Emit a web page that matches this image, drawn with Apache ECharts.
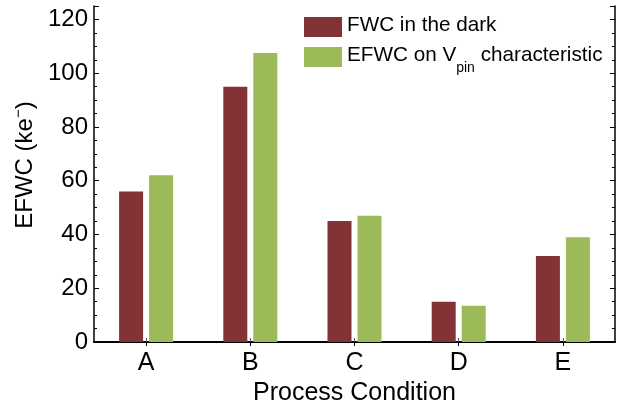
<!DOCTYPE html>
<html>
<head>
<meta charset="utf-8">
<script src="https://cdn.jsdelivr.net/npm/echarts@6/dist/echarts.min.js"></script>
<style>
  html, body { margin: 0; padding: 0; background: #fff; }
  #chart { width: 631px; height: 403px; }
</style>
</head>
<body>
<div id="chart"></div>
<script>
    // values
    var categories = ['A', 'B', 'C', 'D', 'E']
    var fwcDark = [56, 95, 45, 15, 32]
    var efwcVpin = [62, 107.5, 47, 13.5, 39]
    var seriesNames = ['FWC in the dark', 'EFWC on Vpin characteristic']
    var yTicks = [0, 20, 40, 60, 80, 100, 120]

    var font = "'Liberation Sans', Arial, Helvetica, sans-serif"

    function valueAxis(side) {
        return {
            type: 'value',
            position: side,
            min: 0,
            max: 125,
            interval: 20,
            axisLine: { show: true, lineStyle: { color: '#000', width: 1.5 } },
            axisTick: { show: true, inside: true, length: 5, lineStyle: { color: '#000', width: 1 } },
            minorTick: { show: true, splitNumber: 4, length: 3, lineStyle: { color: '#000', width: 1 } },
            splitLine: { show: false },
            axisLabel: {
                show: side === 'left',
                showMaxLabel: false,
                margin: 6,
                fontSize: 24,
                color: '#000',
                fontFamily: font,
                formatter: function (v) {
                    return yTicks.indexOf(v) >= 0 ? String(v) : ''
                }
            },
            name: side === 'left' ? '{a|EFWC (ke}{b|−}{a|)}' : '',
            nameLocation: 'middle',
            nameRotate: 90,
            nameGap: 50,
            nameTextStyle: {
                padding: [0, 0, 0, 18],
                rich: {
                    a: { fontSize: 24, fontFamily: font, color: '#000', lineHeight: 28 },
                    b: { fontSize: 15, fontFamily: font, color: '#000', verticalAlign: 'top', lineHeight: 28 }
                }
            }
        }
    }

    var option = {
        animation: false,
        backgroundColor: '#fff',
        grid: { left: 94, right: 16, top: 6, bottom: 61, outerBoundsMode: 'none' },
        legend: {
            orient: 'vertical',
            left: 304,
            top: 15,
            padding: 0,
            itemWidth: 38,
            itemHeight: 20,
            itemGap: 8,
            icon: 'rect',
            data: seriesNames,
            textStyle: {
                color: '#000',
                fontFamily: font,
                rich: {
                    t: { fontSize: 20.7, fontFamily: font, color: '#000', lineHeight: 24, verticalAlign: 'top' },
                    s: { fontSize: 14, fontFamily: font, color: '#000', lineHeight: 14, padding: [16, 0, 0, 0], verticalAlign: 'top' }
                }
            },
            formatter: function (name) {
                if (name === seriesNames[1]) {
                    return '{t|EFWC on V}{s|pin}{t| characteristic}'
                }
                return '{t|' + name + '}'
            }
        },
        xAxis: [
            {
                type: 'category',
                data: categories,
                position: 'bottom',
                axisLine: { show: true, lineStyle: { color: '#000', width: 2 } },
                axisTick: { show: true, inside: true, alignWithLabel: true, length: 4, lineStyle: { color: '#555' } },
                axisLabel: { fontSize: 25, color: '#000', fontFamily: font, margin: 9 },
                name: 'Process Condition',
                nameLocation: 'middle',
                nameGap: 29,
                nameTextStyle: { fontSize: 25, color: '#000', fontFamily: font }
            },
            {
                type: 'category',
                data: categories,
                position: 'top',
                axisLine: { show: true, lineStyle: { color: '#000', width: 1.5 } },
                axisTick: { show: true, inside: true, alignWithLabel: true, length: 4, lineStyle: { color: '#000' } },
                axisLabel: { show: false }
            }
        ],
        yAxis: [valueAxis('left'), valueAxis('right')],
        series: [
            {
                name: seriesNames[0],
                type: 'bar',
                data: fwcDark,
                barWidth: 24,
                barGap: '25%',
                itemStyle: { color: '#833235' }
            },
            {
                name: seriesNames[1],
                type: 'bar',
                data: efwcVpin,
                barWidth: 24,
                barGap: '25%',
                itemStyle: { color: '#9bbb59' }
            }
        ]
    }

    echarts.init(document.getElementById('chart')).setOption(option)
</script>
</body>
</html>
